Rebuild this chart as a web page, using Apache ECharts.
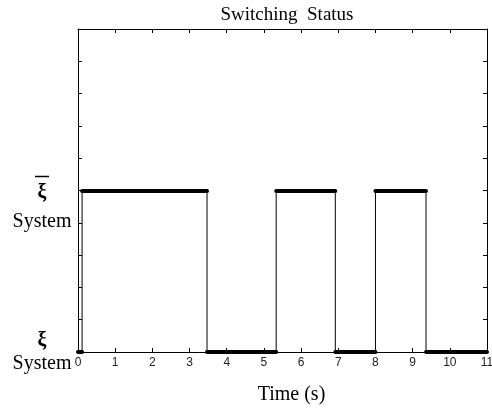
<!DOCTYPE html>
<html><head><meta charset="utf-8">
<script src="https://cdn.jsdelivr.net/npm/echarts@6/dist/echarts.min.js"></script>
<style>html,body{margin:0;padding:0;background:#fff}#c{width:492px;height:411px}</style>
</head><body><div id="c"></div>
<script>
// Segments of the switching signal (time in s)
const segStart = [0, 0.11, 3.47, 5.33, 6.92, 8.0, 9.36];
const segEnd   = [0.11, 3.47, 5.33, 6.92, 8.0, 9.36, 11];
const segLevel = [0, 0.5, 0, 0.5, 0, 0.5, 0];
const xTicks = [0,1,2,3,4,5,6,7,8,9,10,11];
const yLabelSymbol = 'ξ';
const yLabelWord = 'System';

const thin = [];
for (let i = 0; i < segStart.length; i++) {
  thin.push([segStart[i], segLevel[i]]);
  thin.push([segEnd[i], segLevel[i]]);
}
const thick = segStart.map((s, i) => ({coords: [[s, segLevel[i]], [segEnd[i], segLevel[i]]]}));

const serif = 'Liberation Serif, Times New Roman, serif';
const axisCommon = {
  type: 'value', min: 0, splitLine: {show: false},
  axisLine: {show: true, onZero: false, lineStyle: {color: '#000', width: 1}},
  axisTick: {show: true, inside: true, length: 4, lineStyle: {color: '#000'}}
};
const W = 62;
const chart = echarts.init(document.getElementById('c'), null, {renderer: 'canvas'});
chart.setOption({
  animation: false,
  backgroundColor: '#fff',
  title: {text: 'Switching  Status', left: 282, textAlign: 'center', top: 1,
    textStyle: {fontFamily: serif, fontSize: 19, fontWeight: 'normal', color: '#000'}},
  grid: {left: 78, right: 5, top: 29, bottom: 59, outerBoundsMode: 'none', containLabel: false},
  xAxis: [
    Object.assign({}, axisCommon, {position: 'bottom', max: 11, interval: 1,
      axisLabel: {fontFamily: 'Liberation Sans, Arial, sans-serif', fontSize: 12, color: '#222', margin: 5,
        formatter: v => xTicks.includes(v) ? String(v) : ''},
      name: 'Time (s)', nameLocation: 'middle', nameGap: 33,
      nameTextStyle: {fontFamily: serif, fontSize: 20, color: '#000', padding: [0, 0, 0, 18]}}),
    Object.assign({}, axisCommon, {position: 'top', max: 11, interval: 1, axisLabel: {show: false}})
  ],
  yAxis: [
    Object.assign({}, axisCommon, {position: 'left', max: 1, interval: 0.1,
      axisLabel: {margin: 5, showMinLabel: true,
        formatter: v => Math.abs(v) < 1e-9 ? '{x|' + yLabelSymbol + '}\n{s|' + yLabelWord + '}' :
          Math.abs(v - 0.5) < 1e-9 ? '{pad| }\n{sp| }{bar| }{sp| }\n{x|' + yLabelSymbol + '}\n{s2|' + yLabelWord + '}' : '',
        rich: {
          pad: {fontSize: 10, lineHeight: 29, width: W},
          sp: {fontSize: 2, lineHeight: 10, width: (W - 14) / 2},
          bar: {fontSize: 2, lineHeight: 10, width: 14, height: 1.5, backgroundColor: '#000'},
          x: {fontFamily: serif, fontSize: 20, fontWeight: 'bold', color: '#000', width: W, align: 'center', lineHeight: 23},
          s: {fontFamily: serif, fontSize: 20, color: '#000', width: W, align: 'center', lineHeight: 23},
          s2: {fontFamily: serif, fontSize: 20, color: '#000', width: W, align: 'center', lineHeight: 34}
        }}}),
    Object.assign({}, axisCommon, {position: 'right', max: 1, interval: 0.1, axisLabel: {show: false}})
  ],
  series: [
    {type: 'line', data: thin, symbol: 'none', clip: false,
      lineStyle: {color: '#000', width: 1}},
    {type: 'lines', coordinateSystem: 'cartesian2d', data: thick, clip: false,
      lineStyle: {color: '#000', width: 4, cap: 'round', opacity: 1}}
  ]
});
</script></body></html>
